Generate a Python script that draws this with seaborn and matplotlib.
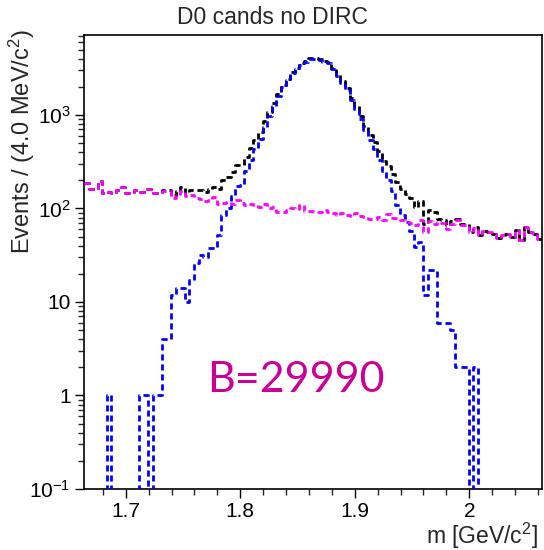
import numpy as np
import pandas as pd
import matplotlib
matplotlib.use("Agg")
import matplotlib.pyplot as plt
import seaborn as sns
from matplotlib.ticker import FixedLocator, FixedFormatter, MultipleLocator, LogLocator, NullFormatter

# ---- data (4 MeV bins, window of +-0.2 GeV around 1.8635 GeV) ----
bin_lo = 1.6635
bin_width = 0.004

signal = [
    0, 0, 0, 0, 0, 1, 0, 0, 0, 0,
    0, 0, 1, 1, 0, 1, 1, 4, 4, 12,
    14, 14, 10, 17, 26, 32, 30, 38, 38, 52,
    85, 100, 135, 172, 178, 250, 330, 430, 560, 750,
    980, 1250, 1600, 2000, 2350, 2800, 3100, 3450, 3700, 3950,
    4000, 3900, 3650, 3600, 3100, 2600, 2200, 1850, 1450, 1150,
    900, 690, 540, 430, 330, 250, 200, 155, 110, 85,
    72, 58, 39, 44, 12, 22, 22, 6, 6, 6,
    5, 2, 2, 2, 0, 2, 0, 0, 0, 0,
    0, 0, 0, 0, 0, 0, 0, 0, 0, 0,
]

background = [
    186, 160, 160, 195, 148, 150, 148, 158, 170, 145,
    145, 158, 150, 162, 162, 146, 146, 155, 155, 128,
    140, 155, 135, 140, 130, 125, 120, 123, 133, 111,
    115, 118, 112, 123, 115, 108, 112, 110, 104, 112,
    100, 104, 92, 92, 96, 100, 98, 108, 95, 93,
    91, 92, 97, 92, 90, 86, 89, 85, 83, 90,
    84, 81, 78, 78, 82, 75, 88, 79, 80, 76,
    72, 70, 66, 75, 56, 74, 69, 72, 70, 61,
    68, 75, 66, 66, 56, 62, 52, 58, 56, 53,
    48, 52, 54, 50, 59, 46, 64, 56, 54, 47,
]

total = [
    186, 160, 160, 195, 148, 151, 148, 158, 170, 145,
    145, 158, 151, 163, 162, 147, 147, 159, 159, 140,
    154, 169, 145, 157, 156, 157, 150, 161, 171, 163,
    200, 218, 247, 295, 293, 358, 442, 540, 664, 862,
    1080, 1354, 1692, 2092, 2446, 2900, 3198, 3558, 3795, 4043,
    4091, 3992, 3747, 3692, 3190, 2686, 2289, 1935, 1533, 1240,
    984, 771, 618, 508, 412, 325, 288, 234, 190, 161,
    144, 128, 105, 119, 68, 96, 91, 78, 76, 67,
    73, 77, 68, 68, 56, 64, 52, 58, 56, 53,
    48, 52, 54, 50, 59, 46, 64, 56, 54, 47,
]

series_names = ["total", "signal", "background"]
series_colors = ["#000000", "#0000ff", "#ff00ff"]

x_ticks = [1.7, 1.8, 1.9, 2.0]
x_tick_labels = ["1.7", "1.8", "1.9", "2"]
y_ticks = [0.1, 1, 10, 100, 1000]
y_tick_labels = [r"$\mathregular{10^{-1}}$", "1", "10",
                 r"$\mathregular{10^{2}}$", r"$\mathregular{10^{3}}$"]

title_text = "D0 cands no DIRC"
x_label = r"m [GeV/c$^{2}$]"
y_label = r"Events / (4.0 MeV/c$^{2}$)"
note_text = "B=29990"

# ---- style ----
sns.set_style("ticks")
plt.rcParams["font.family"] = ["Liberation Sans", "DejaVu Sans"]
plt.rcParams["mathtext.fontset"] = "custom"
plt.rcParams["mathtext.rm"] = "Liberation Sans"
plt.rcParams["mathtext.it"] = "Liberation Sans:italic"
plt.rcParams["mathtext.default"] = "regular"

n = len(signal)
bin_hi = bin_lo + n * bin_width
centers = bin_lo + bin_width * (np.arange(n) + 0.5)
df = pd.DataFrame({
    "m": np.tile(centers, 3),
    "count": total + signal + background,
    "series": np.repeat(series_names, n),
})

fig = plt.figure(figsize=(5.44, 5.50), dpi=100)
ax = fig.add_axes([84 / 544, 1 - 489 / 550, (542 - 84) / 544, (489 - 35) / 550])

for z, (name, col) in enumerate(zip(series_names, series_colors)):
    sub = df[df["series"] == name]
    sns.histplot(data=sub, x="m", weights="count", bins=n, binrange=(bin_lo, bin_hi),
                 element="step", fill=False, color=col, linewidth=2.0,
                 linestyle=(0, (2.2, 1.4)), ax=ax, zorder=3 + z)

ax.set_yscale("log")
ax.set_xlim(bin_lo, bin_hi)
ax.set_ylim(0.1, 7170)
ax.set_xlabel("")
ax.set_ylabel("")

ax.xaxis.set_major_locator(FixedLocator(x_ticks))
ax.xaxis.set_major_formatter(FixedFormatter(x_tick_labels))
ax.xaxis.set_minor_locator(MultipleLocator(0.02))
ax.yaxis.set_major_locator(FixedLocator(y_ticks))
ax.yaxis.set_major_formatter(FixedFormatter(y_tick_labels))
ax.yaxis.set_minor_locator(LogLocator(base=10, subs=np.arange(2, 10), numticks=20))
ax.yaxis.set_minor_formatter(NullFormatter())

ax.tick_params(which="major", direction="out", length=6.5, width=1.0,
               labelsize=15, pad=3, colors="black")
ax.tick_params(which="minor", direction="out", length=4, width=1.0)
ax.tick_params(top=False, right=False, which="both")
for s in ax.spines.values():
    s.set_visible(True)
    s.set_color("black")
    s.set_linewidth(1.2)

fig.text(0.5, 1 - 17 / 550, title_text, ha="center", va="center", fontsize=16.5)
fig.text(22 / 544, 1 - 29 / 550, y_label, rotation=90, ha="center", va="top", fontsize=17)
fig.text(538 / 544, 1 - 536 / 550, x_label, ha="right", va="center", fontsize=16.5)
fig.text(207 / 544, 1 - 392 / 550, note_text, ha="left", va="baseline",
         fontsize=31, color="#cc0099", family=["Lato", "DejaVu Sans"])

fig.savefig("out.png", dpi=100)
